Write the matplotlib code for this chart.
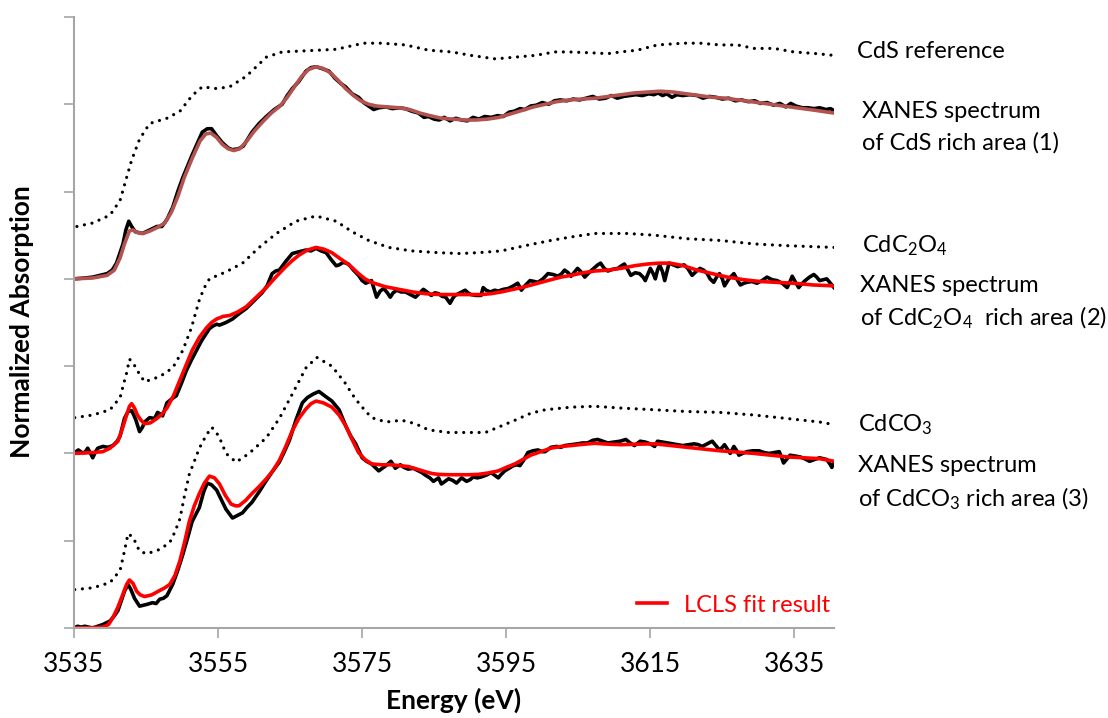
import numpy as np
import matplotlib
matplotlib.use("Agg")
import matplotlib.pyplot as plt

plt.rcParams['font.family'] = ['Lato', 'DejaVu Sans']
plt.rcParams['mathtext.fontset'] = 'custom'
plt.rcParams['mathtext.rm'] = 'Lato'
plt.rcParams['mathtext.it'] = 'Lato:italic'
plt.rcParams['mathtext.bf'] = 'Lato:bold'

# CdS reference (dotted, top)
ref_cds_x = [3535.4, 3537.6, 3540.0, 3541.4, 3542.3, 3543.0, 3544.1, 3545.5, 3547.9, 3549.7,
             3551.4, 3552.8, 3554.8, 3556.6, 3558.9, 3561.7, 3563.9, 3566.5, 3569.0, 3571.4,
             3573.0, 3575.2, 3577.7, 3581.0, 3584.2, 3587.4, 3590.1, 3593.5, 3596.2, 3599.0,
             3601.8, 3603.6, 3606.7, 3609.1, 3610.9, 3613.2, 3616.0, 3619.7, 3621.9, 3624.7,
             3627.1, 3629.4, 3632.2, 3634.9, 3638.1, 3640.5]
ref_cds_y = [2.30, 2.32, 2.365, 2.45, 2.58, 2.68, 2.80, 2.89, 2.92, 2.96,
             3.05, 3.10, 3.09, 3.10, 3.16, 3.27, 3.30, 3.305, 3.31, 3.315,
             3.33, 3.35, 3.35, 3.34, 3.31, 3.30, 3.28, 3.26, 3.27, 3.28,
             3.30, 3.30, 3.295, 3.29, 3.30, 3.31, 3.34, 3.35, 3.35, 3.34,
             3.34, 3.32, 3.32, 3.30, 3.29, 3.28]

# XANES spectrum (1), CdS rich area
spec1_x = [3535.0, 3536.5, 3537.6, 3538.6, 3539.6, 3540.3, 3540.9, 3541.8, 3542.2, 3542.6,
           3543.0, 3543.5, 3544.5, 3545.5, 3546.5, 3547.2, 3547.9, 3548.7, 3549.4, 3550.1,
           3551.4, 3552.8, 3553.5, 3554.1, 3554.8, 3555.6, 3556.4, 3557.0, 3557.8, 3558.5,
           3559.7, 3560.7, 3561.7, 3562.8, 3563.9, 3564.6, 3565.3, 3566.2, 3567.2, 3567.9,
           3568.6, 3569.4, 3570.4, 3571.2, 3572.0, 3572.7, 3573.6, 3574.5, 3575.2, 3575.9,
           3576.6, 3577.3, 3578.3, 3579.2, 3580.1, 3581.0, 3581.9, 3582.8, 3583.6, 3584.2,
           3585.0, 3585.7, 3586.4, 3587.2, 3588.0, 3588.8, 3589.6, 3590.4, 3591.2, 3592.0,
           3592.9, 3593.8, 3594.6, 3595.4, 3596.1, 3596.9, 3597.6, 3598.4, 3599.2, 3600.0,
           3600.9, 3601.7, 3602.5, 3603.4, 3604.3, 3605.2, 3606.1, 3607.0, 3607.9, 3608.8,
           3609.6, 3610.4, 3611.3, 3612.2, 3613.0, 3613.9, 3614.8, 3615.5, 3616.1, 3616.7,
           3617.3, 3618.0, 3618.7, 3619.5, 3620.5, 3621.5, 3622.3, 3623.2, 3624.1, 3625.0,
           3625.9, 3626.8, 3627.7, 3628.6, 3629.5, 3630.3, 3631.2, 3632.1, 3633.0, 3633.8,
           3634.5, 3635.2, 3636.1, 3636.9, 3637.7, 3638.5, 3639.4, 3640.0, 3640.5]
spec1_y = [2.00, 2.005, 2.01, 2.02, 2.03, 2.05, 2.09, 2.20, 2.28, 2.33,
           2.30, 2.27, 2.26, 2.28, 2.30, 2.30, 2.34, 2.41, 2.50, 2.58,
           2.71, 2.84, 2.86, 2.86, 2.82, 2.78, 2.75, 2.74, 2.745, 2.76,
           2.84, 2.89, 2.93, 2.97, 3.00, 3.05, 3.09, 3.13, 3.19, 3.21,
           3.215, 3.205, 3.19, 3.15, 3.12, 3.10, 3.06, 3.04, 3.01, 2.99,
           2.97, 2.98, 2.985, 2.975, 2.98, 2.975, 2.96, 2.95, 2.925, 2.93,
           2.915, 2.91, 2.925, 2.905, 2.92, 2.91, 2.905, 2.925, 2.915, 2.93,
           2.925, 2.935, 2.93, 2.955, 2.96, 2.975, 2.97, 2.99, 2.995, 3.01,
           3.00, 3.02, 3.025, 3.02, 3.03, 3.025, 3.035, 3.045, 3.03, 3.035,
           3.05, 3.035, 3.045, 3.05, 3.055, 3.05, 3.06, 3.055, 3.065, 3.05,
           3.06, 3.04, 3.055, 3.05, 3.055, 3.05, 3.035, 3.045, 3.04, 3.03,
           3.035, 3.02, 3.025, 3.015, 3.02, 3.005, 3.01, 2.995, 3.005, 2.985,
           3.005, 2.99, 2.98, 2.98, 2.975, 2.98, 2.97, 2.975, 2.965]

fit1_x = [3535.0, 3537.6, 3539.6, 3540.6, 3541.4, 3542.0, 3542.7, 3543.2, 3543.8, 3544.6,
          3545.6, 3546.6, 3547.6, 3548.5, 3549.4, 3550.3, 3551.4, 3552.5, 3553.3, 3554.0,
          3554.8, 3555.6, 3556.4, 3557.2, 3558.0, 3559.0, 3560.0, 3561.2, 3562.4, 3563.6,
          3564.6, 3565.6, 3566.6, 3567.6, 3568.6, 3569.6, 3570.6, 3571.6, 3572.7, 3573.8,
          3574.8, 3575.9, 3577.0, 3578.5, 3580.1, 3581.6, 3583.0, 3584.4, 3586.0, 3587.6,
          3589.2, 3590.8, 3592.4, 3594.0, 3595.6, 3597.2, 3598.8, 3600.4, 3602.0, 3603.8,
          3605.6, 3607.4, 3609.2, 3611.0, 3612.8, 3614.6, 3616.4, 3618.2, 3620.0, 3621.8,
          3623.6, 3625.4, 3627.2, 3629.0, 3630.8, 3632.6, 3634.4, 3636.2, 3638.0, 3639.6,
          3640.5]
fit1_y = [2.00, 2.005, 2.02, 2.05, 2.12, 2.20, 2.275, 2.28, 2.265, 2.26,
          2.275, 2.295, 2.32, 2.38, 2.47, 2.58, 2.69, 2.79, 2.83, 2.835,
          2.81, 2.77, 2.745, 2.735, 2.745, 2.79, 2.845, 2.90, 2.95, 2.99,
          3.04, 3.10, 3.16, 3.20, 3.215, 3.205, 3.18, 3.14, 3.09, 3.05,
          3.02, 3.00, 2.99, 2.985, 2.98, 2.97, 2.95, 2.935, 2.92, 2.915,
          2.91, 2.91, 2.915, 2.925, 2.945, 2.965, 2.985, 3.00, 3.015, 3.025,
          3.03, 3.035, 3.045, 3.055, 3.065, 3.07, 3.075, 3.07, 3.06, 3.05,
          3.04, 3.035, 3.025, 3.015, 3.005, 2.995, 2.985, 2.975, 2.965, 2.955,
          2.95]

# CdC2O4 reference (dotted, middle)
ref_ox_x = [3535.1, 3537.6, 3540.0, 3541.4, 3541.9, 3542.3, 3542.7, 3543.2, 3543.7, 3544.8,
            3545.8, 3546.9, 3548.7, 3550.1, 3551.3, 3552.4, 3553.1, 3553.8, 3556.1, 3558.4,
            3560.7, 3563.1, 3565.8, 3568.6, 3571.4, 3573.6, 3575.9, 3578.7, 3581.9, 3585.6,
            3588.6, 3591.1, 3594.3, 3597.6, 3601.2, 3604.0, 3607.3, 3611.8, 3615.6, 3620.1,
            3624.7, 3629.4, 3634.0, 3640.5]
ref_ox_y = [1.205, 1.22, 1.25, 1.32, 1.40, 1.46, 1.54, 1.52, 1.48, 1.41,
            1.425, 1.44, 1.49, 1.59, 1.72, 1.88, 1.95, 2.00, 2.04, 2.09,
            2.18, 2.26, 2.33, 2.36, 2.33, 2.27, 2.22, 2.18, 2.16, 2.15,
            2.145, 2.15, 2.16, 2.19, 2.22, 2.24, 2.26, 2.26, 2.25, 2.23,
            2.22, 2.20, 2.19, 2.18]

# XANES spectrum (2), CdC2O4 rich area
spec2_x = [3535.0, 3535.6, 3536.1, 3536.5, 3536.9, 3537.3, 3537.6, 3538.0, 3538.3, 3539.0,
           3539.7, 3540.4, 3541.0, 3541.4, 3542.0, 3542.5, 3543.0, 3543.3, 3543.6, 3544.1,
           3544.5, 3544.8, 3545.5, 3546.2, 3546.6, 3547.0, 3547.3, 3547.9, 3548.5, 3549.2,
           3549.9, 3550.6, 3551.3, 3552.0, 3552.7, 3553.4, 3553.8, 3554.3, 3554.8, 3555.2,
           3556.1, 3557.0, 3557.9, 3558.9, 3560.0, 3561.1, 3561.8, 3562.5, 3563.0, 3563.5,
           3564.4, 3565.3, 3566.2, 3567.2, 3567.9, 3568.6, 3569.3, 3570.0, 3570.7, 3571.4,
           3571.8, 3572.4, 3573.1, 3573.8, 3574.5, 3575.0, 3575.5, 3576.3, 3577.0, 3577.5,
           3578.0, 3578.5, 3578.9, 3579.3, 3579.8, 3580.4, 3581.0, 3581.7, 3582.4, 3583.0,
           3583.5, 3584.0, 3584.6, 3585.1, 3585.6, 3586.1, 3586.6, 3587.2, 3587.6, 3587.9,
           3588.6, 3589.3, 3589.7, 3590.1, 3590.8, 3591.5, 3591.8, 3592.2, 3592.8, 3593.4,
           3593.9, 3594.6, 3595.3, 3596.0, 3596.6, 3597.1, 3597.7, 3598.3, 3598.9, 3599.4,
           3600.1, 3600.8, 3601.5, 3602.2, 3602.7, 3603.1, 3603.6, 3604.0, 3604.5, 3604.9,
           3605.4, 3605.9, 3606.6, 3607.3, 3607.7, 3608.1, 3608.6, 3609.1, 3609.8, 3610.5,
           3611.0, 3611.4, 3611.9, 3612.3, 3612.9, 3613.5, 3614.0, 3614.3, 3614.6, 3615.0,
           3615.4, 3615.7, 3616.0, 3616.3, 3616.7, 3617.0, 3617.3, 3617.6, 3618.2, 3618.8,
           3619.2, 3619.7, 3620.2, 3620.8, 3621.3, 3621.9, 3622.4, 3622.9, 3623.3, 3623.8,
           3624.2, 3624.6, 3625.0, 3625.3, 3625.9, 3626.6, 3627.0, 3627.5, 3628.0, 3628.4,
           3629.1, 3629.8, 3630.5, 3631.2, 3631.9, 3632.6, 3633.3, 3634.0, 3634.4, 3634.7,
           3635.1, 3635.6, 3636.0, 3636.5, 3637.1, 3637.7, 3638.1, 3638.5, 3639.0, 3639.5,
           3640.0, 3640.5]
spec2_y = [1.00, 1.02, 1.005, 1.005, 1.03, 1.00, 0.975, 1.01, 1.03, 1.04,
           1.035, 1.045, 1.07, 1.10, 1.20, 1.24, 1.245, 1.22, 1.19, 1.125,
           1.15, 1.18, 1.205, 1.20, 1.235, 1.225, 1.215, 1.29, 1.31, 1.33,
           1.40, 1.475, 1.535, 1.59, 1.645, 1.69, 1.715, 1.73, 1.74, 1.735,
           1.75, 1.77, 1.80, 1.83, 1.875, 1.92, 1.96, 2.03, 2.045, 2.05,
           2.10, 2.145, 2.155, 2.165, 2.16, 2.175, 2.16, 2.15, 2.11, 2.075,
           2.08, 2.095, 2.085, 2.05, 2.02, 1.99, 1.975, 1.99, 1.895, 1.93,
           1.945, 1.92, 1.895, 1.92, 1.935, 1.925, 1.925, 1.91, 1.895, 1.92,
           1.94, 1.925, 1.905, 1.92, 1.915, 1.90, 1.895, 1.86, 1.89, 1.905,
           1.92, 1.935, 1.92, 1.91, 1.905, 1.905, 1.95, 1.935, 1.925, 1.935,
           1.93, 1.94, 1.945, 1.96, 1.975, 1.935, 1.965, 1.99, 1.985, 1.98,
           2.00, 2.03, 2.025, 2.015, 2.03, 2.05, 2.035, 2.015, 2.04, 2.06,
           2.04, 2.01, 2.04, 2.065, 2.08, 2.09, 2.06, 2.045, 2.055, 2.06,
           2.075, 2.085, 2.05, 2.02, 2.035, 2.03, 2.01, 1.99, 2.02, 2.06,
           2.03, 2.00, 2.05, 2.08, 2.04, 1.99, 2.04, 2.09, 2.08, 2.07,
           2.075, 2.08, 2.06, 2.02, 2.04, 2.06, 2.05, 2.03, 2.00, 1.98,
           2.01, 2.03, 2.00, 1.96, 2.00, 2.03, 2.00, 1.965, 1.975, 1.98,
           1.985, 1.975, 1.99, 2.01, 1.995, 1.99, 1.975, 1.95, 1.985, 2.015,
           1.985, 1.95, 1.97, 1.99, 2.01, 2.025, 2.01, 1.99, 1.995, 2.00,
           1.975, 1.95]

fit2_x = [3535.0, 3537.6, 3539.0, 3540.0, 3541.1, 3541.7, 3542.3, 3542.7, 3543.0, 3543.4,
          3543.8, 3544.3, 3544.8, 3545.6, 3546.5, 3547.2, 3547.9, 3548.8, 3549.7, 3550.6,
          3551.4, 3552.4, 3553.4, 3554.1, 3554.8, 3555.7, 3556.6, 3557.7, 3558.9, 3560.3,
          3561.7, 3563.0, 3564.4, 3565.3, 3566.2, 3567.4, 3568.6, 3569.7, 3570.8, 3571.8,
          3572.7, 3573.6, 3574.5, 3575.4, 3576.3, 3578.2, 3580.1, 3582.0, 3583.8, 3585.9,
          3587.9, 3589.7, 3591.5, 3592.9, 3594.3, 3596.0, 3597.6, 3599.4, 3601.2, 3602.6,
          3604.0, 3605.7, 3607.3, 3609.1, 3610.9, 3612.8, 3614.6, 3616.2, 3617.8, 3619.6,
          3621.5, 3623.6, 3625.7, 3628.0, 3630.2, 3632.5, 3634.9, 3637.6, 3640.5]
fit2_y = [1.00, 1.005, 1.01, 1.03, 1.07, 1.14, 1.22, 1.27, 1.285, 1.26,
          1.22, 1.19, 1.17, 1.175, 1.20, 1.225, 1.26, 1.33, 1.42, 1.51,
          1.59, 1.665, 1.72, 1.75, 1.77, 1.785, 1.79, 1.81, 1.84, 1.895,
          1.95, 2.01, 2.07, 2.105, 2.135, 2.165, 2.18, 2.17, 2.15, 2.12,
          2.095, 2.065, 2.03, 2.00, 1.98, 1.955, 1.94, 1.925, 1.915, 1.91,
          1.91, 1.91, 1.91, 1.915, 1.925, 1.94, 1.955, 1.975, 1.995, 2.01,
          2.02, 2.035, 2.045, 2.05, 2.06, 2.075, 2.085, 2.09, 2.09, 2.075,
          2.05, 2.03, 2.01, 1.995, 1.985, 1.98, 1.975, 1.965, 1.96]

# CdCO3 reference (dotted, bottom)
ref_co3_x = [3535.1, 3537.6, 3540.0, 3541.4, 3542.0, 3542.5, 3543.2, 3544.1, 3545.1, 3546.9,
             3548.3, 3549.0, 3549.7, 3550.3, 3551.0, 3552.4, 3553.3, 3554.1, 3554.6, 3555.2,
             3556.1, 3557.5, 3559.3, 3561.7, 3563.5, 3565.3, 3567.2, 3568.7, 3570.8, 3572.7,
             3573.6, 3574.5, 3575.0, 3576.3, 3578.3, 3580.5, 3582.4, 3584.2, 3587.0, 3590.1,
             3592.1, 3593.9, 3596.2, 3598.4, 3600.4, 3604.0, 3607.3, 3610.9, 3615.6, 3620.1,
             3624.7, 3629.4, 3634.0, 3638.5, 3640.5]
ref_co3_y = [0.22, 0.23, 0.26, 0.33, 0.44, 0.54, 0.52, 0.44, 0.425, 0.45,
             0.49, 0.55, 0.625, 0.75, 0.88, 1.03, 1.10, 1.15, 1.13, 1.09,
             1.00, 0.95, 1.00, 1.09, 1.20, 1.34, 1.49, 1.55, 1.50, 1.40,
             1.34, 1.29, 1.265, 1.205, 1.18, 1.19, 1.17, 1.135, 1.12, 1.12,
             1.12, 1.15, 1.19, 1.23, 1.25, 1.265, 1.27, 1.26, 1.25, 1.24,
             1.235, 1.22, 1.20, 1.18, 1.165]

# XANES spectrum (3), CdCO3 rich area
spec3_x = [3535.0, 3535.5, 3536.0, 3536.5, 3537.0, 3537.6, 3538.3, 3539.0, 3540.0, 3540.6,
           3541.1, 3541.6, 3542.0, 3542.5, 3542.9, 3543.4, 3544.1, 3544.6, 3545.1, 3545.9,
           3546.4, 3546.9, 3547.4, 3547.9, 3548.7, 3549.4, 3550.1, 3550.8, 3551.4, 3552.4,
           3553.0, 3553.5, 3554.1, 3554.8, 3555.5, 3556.1, 3557.0, 3557.7, 3558.4, 3559.0,
           3559.7, 3560.7, 3561.7, 3562.6, 3563.5, 3564.2, 3564.9, 3565.8, 3566.7, 3567.4,
           3568.2, 3569.0, 3569.8, 3570.8, 3571.8, 3572.7, 3573.4, 3574.1, 3575.0, 3575.6,
           3576.3, 3576.8, 3577.3, 3577.8, 3578.3, 3579.0, 3579.6, 3580.3, 3580.8, 3581.4,
           3582.1, 3582.8, 3583.3, 3583.8, 3584.4, 3584.9, 3585.6, 3586.0, 3586.5, 3587.0,
           3587.6, 3588.1, 3588.8, 3589.5, 3590.0, 3590.4, 3591.0, 3591.5, 3592.2, 3592.9,
           3593.4, 3593.9, 3594.3, 3594.8, 3595.4, 3596.0, 3596.5, 3596.9, 3597.4, 3598.0,
           3598.7, 3599.4, 3600.0, 3600.4, 3601.2, 3602.0, 3602.6, 3603.1, 3604.0, 3604.9,
           3605.6, 3606.3, 3607.0, 3607.7, 3608.4, 3609.1, 3610.0, 3610.8, 3611.6, 3612.2,
           3612.8, 3613.6, 3614.3, 3615.0, 3615.6, 3616.0, 3616.7, 3617.4, 3618.1, 3618.8,
           3619.5, 3620.3, 3621.1, 3621.7, 3622.2, 3622.9, 3623.6, 3624.1, 3624.6, 3625.0,
           3625.3, 3625.7, 3626.1, 3626.6, 3627.0, 3627.3, 3627.8, 3628.4, 3629.2, 3630.1,
           3630.8, 3631.5, 3632.2, 3632.9, 3633.2, 3633.5, 3633.9, 3634.4, 3635.1, 3635.8,
           3636.4, 3637.1, 3637.8, 3638.5, 3639.0, 3639.5, 3640.0, 3640.2, 3640.5]
spec3_y = [0.00, 0.01, 0.005, 0.01, 0.005, 0.00, 0.01, 0.02, 0.04, 0.07,
           0.10, 0.16, 0.21, 0.25, 0.22, 0.17, 0.125, 0.13, 0.135, 0.145,
           0.14, 0.165, 0.17, 0.185, 0.25, 0.33, 0.42, 0.52, 0.61, 0.69,
           0.78, 0.83, 0.82, 0.79, 0.73, 0.68, 0.63, 0.645, 0.66, 0.69,
           0.72, 0.78, 0.845, 0.90, 0.95, 1.01, 1.075, 1.19, 1.29, 1.32,
           1.34, 1.355, 1.33, 1.30, 1.25, 1.16, 1.10, 1.055, 0.975, 0.955,
           0.94, 0.92, 0.90, 0.915, 0.93, 0.955, 0.915, 0.935, 0.92, 0.91,
           0.915, 0.90, 0.89, 0.875, 0.86, 0.84, 0.86, 0.825, 0.84, 0.855,
           0.845, 0.83, 0.86, 0.84, 0.85, 0.865, 0.86, 0.865, 0.875, 0.89,
           0.875, 0.86, 0.88, 0.90, 0.915, 0.93, 0.935, 0.93, 0.96, 1.005,
           1.015, 1.02, 1.01, 1.01, 1.035, 1.04, 1.035, 1.045, 1.05, 1.055,
           1.06, 1.06, 1.075, 1.08, 1.07, 1.06, 1.065, 1.07, 1.08, 1.06,
           1.045, 1.07, 1.065, 1.055, 1.04, 1.07, 1.065, 1.06, 1.055, 1.05,
           1.045, 1.05, 1.055, 1.05, 1.04, 1.055, 1.07, 1.045, 1.02, 1.035,
           1.05, 1.025, 1.00, 1.04, 1.015, 0.99, 1.00, 1.01, 1.015, 1.015,
           1.005, 1.00, 1.005, 1.01, 0.98, 0.945, 0.965, 0.99, 0.985, 0.98,
           0.97, 0.955, 0.965, 0.975, 0.97, 0.965, 0.935, 0.92, 0.95]

fit3_x = [3535.0, 3537.6, 3539.0, 3539.8, 3540.4, 3541.1, 3541.8, 3542.3, 3542.7, 3543.2,
          3543.7, 3544.2, 3544.8, 3545.8, 3546.9, 3547.6, 3548.3, 3549.0, 3549.7, 3550.4,
          3551.0, 3551.7, 3552.4, 3553.1, 3553.8, 3554.5, 3555.2, 3556.0, 3556.8, 3557.4,
          3557.9, 3558.8, 3559.7, 3560.7, 3561.7, 3562.6, 3563.5, 3564.4, 3565.3, 3566.2,
          3567.2, 3567.9, 3568.6, 3569.6, 3570.8, 3571.8, 3572.7, 3573.6, 3574.5, 3575.4,
          3576.3, 3577.7, 3579.1, 3580.2, 3581.4, 3582.6, 3583.8, 3584.7, 3585.6, 3587.0,
          3588.4, 3589.8, 3591.1, 3592.5, 3593.9, 3595.0, 3596.2, 3597.3, 3598.4, 3599.8,
          3601.2, 3602.6, 3604.0, 3605.6, 3607.3, 3609.1, 3610.9, 3613.2, 3615.6, 3617.9,
          3620.1, 3622.4, 3624.7, 3627.0, 3629.4, 3631.7, 3634.0, 3636.3, 3638.5, 3640.5]
fit3_y = [0.00, 0.002, 0.005, 0.02, 0.06, 0.12, 0.195, 0.25, 0.275, 0.255,
          0.21, 0.19, 0.18, 0.19, 0.215, 0.23, 0.25, 0.30, 0.385, 0.50,
          0.61, 0.70, 0.77, 0.83, 0.87, 0.86, 0.825, 0.76, 0.71, 0.70,
          0.70, 0.73, 0.77, 0.81, 0.855, 0.90, 0.96, 1.04, 1.13, 1.20,
          1.255, 1.285, 1.30, 1.29, 1.265, 1.22, 1.16, 1.08, 1.005, 0.965,
          0.94, 0.935, 0.935, 0.93, 0.925, 0.91, 0.895, 0.885, 0.88, 0.878,
          0.878, 0.878, 0.88, 0.888, 0.90, 0.92, 0.94, 0.965, 0.99, 1.01,
          1.03, 1.04, 1.045, 1.052, 1.058, 1.053, 1.05, 1.053, 1.055, 1.045,
          1.035, 1.025, 1.015, 1.008, 1.00, 0.99, 0.98, 0.975, 0.97, 0.955]

xticks = [3535, 3555, 3575, 3595, 3615, 3635]
yticks = [0, 0.5, 1.0, 1.5, 2.0, 2.5, 3.0, 3.5]

W, H = 1108, 718
fig = plt.figure(figsize=(W / 100, H / 100), dpi=100)
ax = fig.add_axes([74 / W, 1 - 628 / H, (834 - 74) / W, (628 - 17) / H])

dots = dict(color='black', lw=2.3, linestyle=(0, (0.01, 2.4)), dash_capstyle='round')
ax.plot(ref_cds_x, ref_cds_y, **dots)
ax.plot(ref_ox_x, ref_ox_y, **dots)
ax.plot(ref_co3_x, ref_co3_y, **dots)

ax.plot(spec1_x, spec1_y, color='black', lw=2.6, solid_joinstyle='round')
ax.plot(fit1_x, fit1_y, color='#B4524F', lw=2.6)
ax.plot(spec2_x, spec2_y, color='black', lw=2.6, solid_joinstyle='round')
fit_line, = ax.plot(fit2_x, fit2_y, color='#FF0000', lw=2.6)
ax.plot(spec3_x, spec3_y, color='black', lw=2.6, solid_joinstyle='round')
ax.plot(fit3_x, fit3_y, color='#FF0000', lw=2.6)

ax.set_xlim(3535, 3640.5)
ax.set_ylim(0, 3.5)
ax.set_xticks(xticks)
ax.set_yticks(yticks)
ax.set_yticklabels([])
ax.tick_params(axis='both', direction='out', length=7, width=1.2, color='#A6A6A6',
               labelsize=19, pad=10)
for s in ['top', 'right']:
    ax.spines[s].set_visible(False)
for s in ['left', 'bottom']:
    ax.spines[s].set_color('#A6A6A6')
    ax.spines[s].set_linewidth(1.5)

ax.set_xlabel('Energy (eV)', fontsize=19, fontweight='bold', labelpad=8)
fig.text(22 / W, 1 - 322 / H, 'Normalized Absorption', fontsize=19, fontweight='bold',
         rotation=90, ha='center', va='center')

leg = ax.legend([fit_line], ['LCLS fit result'], loc='center left', frameon=False,
                bbox_to_anchor=(637 / W, 1 - 605 / H), bbox_transform=fig.transFigure,
                fontsize=17, handlelength=1.25, handletextpad=0.75,
                borderpad=0, borderaxespad=0)
for t in leg.get_texts():
    t.set_color('#FF0000')

fs = 17
labels = [
    (857, 52, 'CdS reference'),
    (862, 112, 'XANES spectrum'),
    (862, 143, 'of CdS rich area (1)'),
    (862, 246, 'CdC$_2$O$_4$'),
    (860, 286, 'XANES spectrum'),
    (860, 318, 'of CdC$_2$O$_4$  rich area (2)'),
    (858, 425, 'CdCO$_3$'),
    (858, 466, 'XANES spectrum'),
    (858, 499, 'of CdCO$_3$ rich area (3)'),
]
for px, py, txt in labels:
    fig.text(px / W, 1 - py / H, txt, fontsize=fs, ha='left', va='center')

fig.savefig('out.png', dpi=100)
